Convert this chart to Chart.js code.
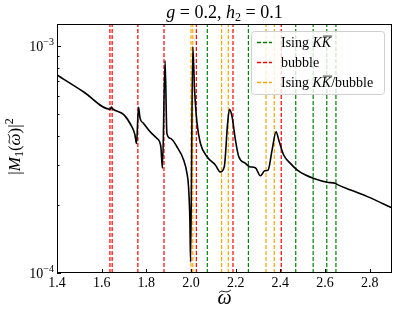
<!DOCTYPE html>
<html>
<head>
<meta charset="utf-8">
<script src="https://cdn.jsdelivr.net/npm/chart.js@4.4.1/dist/chart.umd.min.js"></script>
<style>
  html, body { margin: 0; padding: 0; background: #fff; }
  #wrap { width: 398px; height: 315px; }
</style>
</head>
<body>
<div id="wrap"><canvas id="c" width="398" height="315"></canvas></div>
<script>
// curve |M_1(w)|^2
const omega = [1.400, 1.520, 1.638, 1.643, 1.648, 1.700, 1.735, 1.748, 1.756, 1.765,
  1.772, 1.787, 1.817, 1.847, 1.865, 1.872, 1.884, 1.892, 1.907, 1.937, 1.967, 1.982,
  1.989, 1.995, 1.998, 2.008, 2.016, 2.027, 2.042, 2.072, 2.109, 2.131, 2.149, 2.164,
  2.172, 2.184, 2.199, 2.214, 2.244, 2.262, 2.288, 2.311, 2.330, 2.345, 2.363, 2.381,
  2.393, 2.415, 2.445, 2.476, 2.513, 2.550, 2.610, 2.647, 2.656, 2.715, 2.790, 2.902];
const m1sq = [7.45e-4, 6.27e-4, 5.26e-4, 5.38e-4, 5.30e-4, 4.97e-4, 4.41e-4, 4.10e-4, 3.72e-4, 5.37e-4,
  4.80e-4, 4.57e-4, 4.19e-4, 3.92e-4, 3.60e-4, 2.89e-4, 8.61e-4, 4.12e-4, 3.92e-4, 3.60e-4, 3.15e-4, 2.75e-4,
  2.40e-4, 1.71e-4, 1.12e-4, 9.93e-4, 6.40e-4, 4.57e-4, 3.73e-4, 3.25e-4, 2.99e-4, 2.79e-4, 2.94e-4, 4.57e-4,
  5.26e-4, 4.88e-4, 3.85e-4, 3.25e-4, 3.04e-4, 2.94e-4, 2.91e-4, 2.68e-4, 2.82e-4, 2.84e-4, 3.48e-4, 4.19e-4,
  3.85e-4, 3.31e-4, 3.04e-4, 2.84e-4, 2.70e-4, 2.61e-4, 2.51e-4, 2.48e-4, 2.45e-4, 2.32e-4, 2.17e-4, 1.93e-4];

// vertical markers
const isingKK = [2.073, 2.257, 2.469, 2.547, 2.608, 2.649];
const bubble = [1.637, 1.647, 1.762, 1.879, 2.024, 2.188, 2.404];
const isingBubble = [2.000, 2.008, 2.137, 2.167, 2.336, 2.373];

const xTicks = [1.4, 1.6, 1.8, 2.0, 2.2, 2.4, 2.6, 2.8];
const yMajor = [1e-4, 1e-3];
const yMinor = [2e-4, 3e-4, 4e-4, 5e-4, 6e-4, 7e-4, 8e-4, 9e-4];
const X_MIN = 1.4, X_MAX = 2.9, Y_MIN = 1e-4, Y_MAX = 1.25e-3;

const COLORS = { ising: '#008000', bubble: '#ff0000', both: '#ffa500' };
const SERIF = '"Liberation Serif", "DejaVu Serif", serif';

function vlines(xs, color) {
    return xs.map(x => ({
        data: [{ x: x, y: Y_MIN }, { x: x, y: Y_MAX }],
        borderColor: color,
        borderWidth: 1.2,
        borderDash: [4, 2],
        pointRadius: 0,
        order: 2
    }));
}

// draw text pieces (italic, sub/superscript, tilde, overline)
function drawRich(ctx, parts, x, y, align, size) {
    const fontOf = p => (p.italic ? 'italic ' : '') + (p.size || size) + 'px ' + SERIF;
    let total = 0;
    parts.forEach(p => { ctx.font = fontOf(p); p.w = ctx.measureText(p.t).width; total += p.w; });
    let cx = align === 'center' ? x - total / 2 : align === 'right' ? x - total : x;
    ctx.textBaseline = 'alphabetic';
    ctx.textAlign = 'left';
    parts.forEach(p => {
        ctx.font = fontOf(p);
        const by = y + (p.dy || 0);
        ctx.fillText(p.t, cx, by);
        const s = p.size || size;
        if (p.tilde) {
            const ty = by - s * 0.62, w = p.w;
            ctx.beginPath();
            ctx.lineWidth = 0.9;
            ctx.moveTo(cx + w * 0.12, ty + 1);
            ctx.bezierCurveTo(cx + w * 0.35, ty - 3, cx + w * 0.55, ty + 3, cx + w * 0.95, ty - 1.5);
            ctx.stroke();
        }
        if (p.bar) {
            const ty = by - s * 0.78;
            ctx.beginPath();
            ctx.lineWidth = 0.8;
            ctx.moveTo(cx + 1, ty);
            ctx.lineTo(cx + p.w + 1, ty);
            ctx.stroke();
        }
        cx += p.w;
    });
}

const decorPlugin = {
    id: 'decor',
    afterDraw(chart) {
        const ctx = chart.ctx;
        const a = chart.chartArea;
        const xs = chart.scales.x, ys = chart.scales.y;
        ctx.save();
        ctx.fillStyle = '#000';
        ctx.strokeStyle = '#000';

        // frame
        ctx.lineWidth = 1;
        ctx.strokeRect(Math.round(a.left) + 0.5, Math.round(a.top) + 0.5,
            Math.round(a.right - a.left) - 1, Math.round(a.bottom - a.top) - 1);

        // inward ticks + labels
        ctx.beginPath();
        xTicks.forEach(v => {
            const px = Math.round(xs.getPixelForValue(v)) + 0.5;
            ctx.moveTo(px, a.bottom);
            ctx.lineTo(px, a.bottom - 4);
        });
        yMajor.forEach(v => {
            const py = Math.round(ys.getPixelForValue(v)) + 0.5;
            ctx.moveTo(a.left, py);
            ctx.lineTo(a.left + 4, py);
        });
        yMinor.forEach(v => {
            const py = Math.round(ys.getPixelForValue(v)) + 0.5;
            ctx.moveTo(a.left, py);
            ctx.lineTo(a.left + 2.5, py);
        });
        ctx.stroke();

        xTicks.forEach(v => {
            drawRich(ctx, [{ t: v.toFixed(1) }], xs.getPixelForValue(v), a.bottom + 14, 'center', 14);
        });
        yMajor.forEach(v => {
            const e = Math.round(Math.log10(v));
            drawRich(ctx, [{ t: '10' }, { t: '\u2212' + Math.abs(e), size: 10, dy: -6 }],
                a.left - 3, ys.getPixelForValue(v) + 5, 'right', 14);
        });

        // title
        drawRich(ctx, [
            { t: 'g', italic: true }, { t: ' = 0.2, ' },
            { t: 'h', italic: true }, { t: '2', size: 12, dy: 3 }, { t: ' = 0.1' }
        ], (a.left + a.right) / 2, 18, 'center', 18);

        // axis titles
        drawRich(ctx, [{ t: '\u03c9', italic: true, tilde: true }], (a.left + a.right) / 2, 304, 'center', 20);
        ctx.save();
        ctx.translate(20, (a.top + a.bottom) / 2 - 2);
        ctx.rotate(-Math.PI / 2);
        drawRich(ctx, [
            { t: '|' }, { t: 'M', italic: true }, { t: '1', size: 12, dy: 3 }, { t: '(' },
            { t: '\u03c9', italic: true, tilde: true }, { t: ')|' }, { t: '2', size: 12, dy: -7 }
        ], 0, 0, 'center', 17);
        ctx.restore();

        // legend
        const lx = 251, ly = 31, lw = 133, lh = 63;
        ctx.beginPath();
        ctx.roundRect(lx + 0.5, ly + 0.5, lw, lh, 3);
        ctx.fillStyle = 'rgba(255,255,255,0.8)';
        ctx.fill();
        ctx.strokeStyle = '#d0d0d0';
        ctx.lineWidth = 1;
        ctx.stroke();

        const rows = [
            { c: COLORS.ising, parts: [{ t: 'Ising ' }, { t: 'K', italic: true }, { t: 'K', italic: true, bar: true }] },
            { c: COLORS.bubble, parts: [{ t: 'bubble' }] },
            { c: COLORS.both, parts: [{ t: 'Ising ' }, { t: 'K', italic: true }, { t: 'K', italic: true, bar: true }, { t: '/bubble' }] }
        ];
        rows.forEach((r, i) => {
            const cy = 42 + i * 20;
            ctx.strokeStyle = r.c;
            ctx.lineWidth = 1.5;
            ctx.setLineDash([4, 2]);
            ctx.beginPath();
            ctx.moveTo(257, cy + 0.5);
            ctx.lineTo(272, cy + 0.5);
            ctx.stroke();
            ctx.setLineDash([]);
            ctx.fillStyle = '#000';
            ctx.strokeStyle = '#000';
            drawRich(ctx, r.parts, 281, cy + 5, 'left', 14);
        });
        ctx.restore();
    }
};

const datasets = [
    {
        data: omega.map((w, i) => ({ x: w, y: m1sq[i] })),
        borderColor: '#000',
        borderWidth: 1.6,
        pointRadius: 0,
        cubicInterpolationMode: 'monotone',
        order: 0
    },
    ...vlines(isingKK, COLORS.ising),
    ...vlines(bubble, COLORS.bubble),
    ...vlines(isingBubble, COLORS.both)
];

new Chart(document.getElementById('c'), {
    type: 'line',
    data: { datasets: datasets },
    options: {
        responsive: false,
        animation: false,
        layout: { padding: { left: 57, right: 6, top: 24, bottom: 42 } },
        scales: {
            x: { type: 'linear', min: X_MIN, max: X_MAX, display: false },
            y: { type: 'logarithmic', min: Y_MIN, max: Y_MAX, display: false }
        },
        plugins: { legend: { display: false }, tooltip: { enabled: false } }
    },
    plugins: [decorPlugin]
});
</script>
</body>
</html>
